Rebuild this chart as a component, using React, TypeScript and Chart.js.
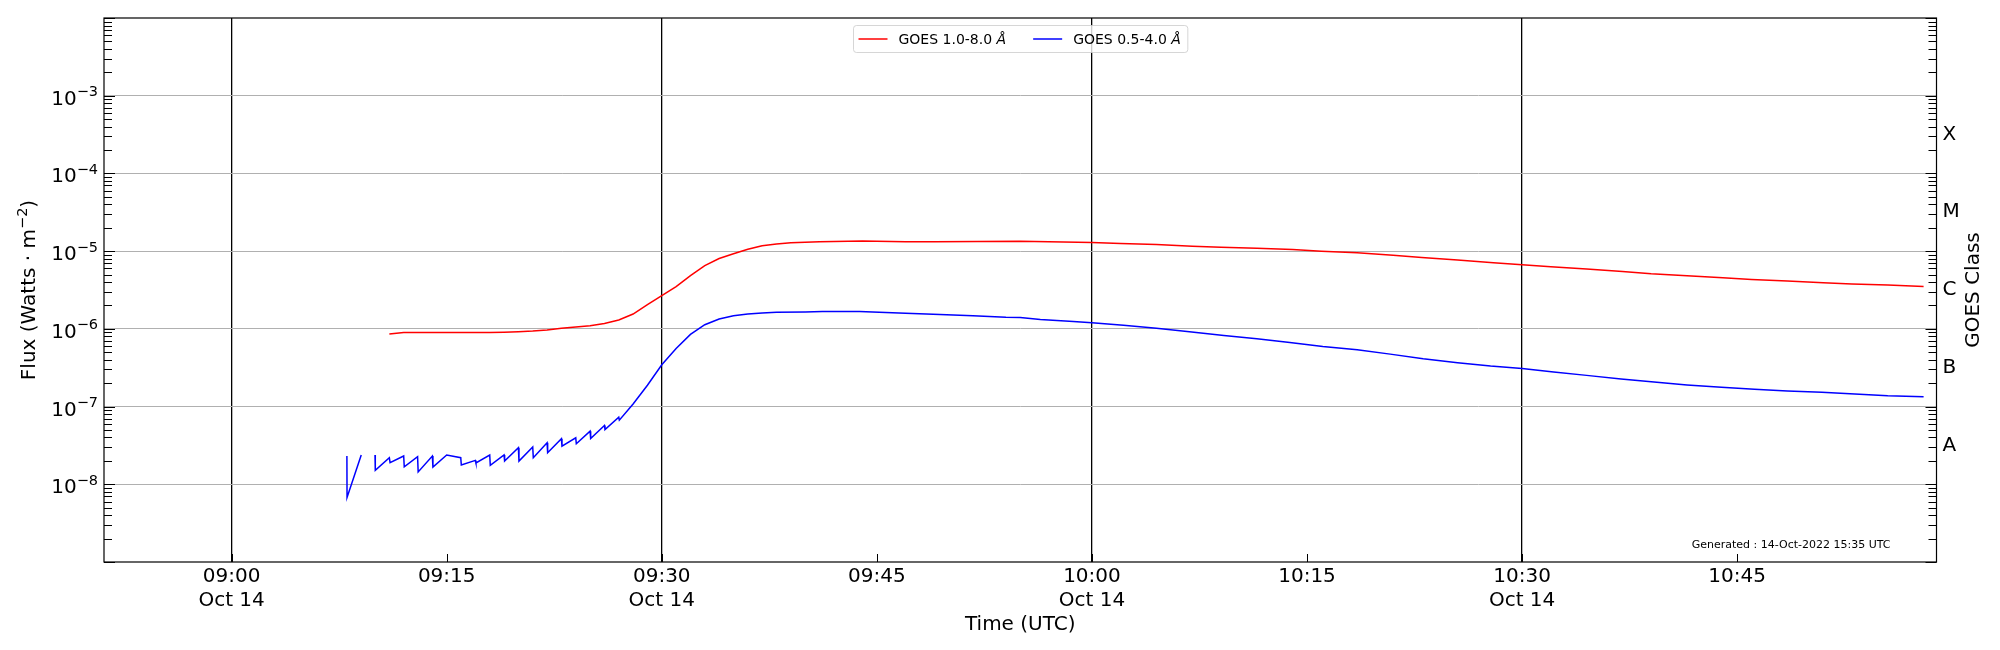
import { useEffect, useRef } from "react";
import { Chart, registerables, type Plugin } from "chart.js";

Chart.register(...registerables);

// time is in minutes after 09:00 UTC on 14-Oct-2022
const timeMin = -8.9;
const timeMax = 118.9;
const timeTicks = [0, 15, 30, 45, 60, 75, 90, 105];
const timeLabels = ["09:00", "09:15", "09:30", "09:45", "10:00", "10:15", "10:30", "10:45"];
const dayLabel = "Oct 14";

const fluxDecades = [-9, -8, -7, -6, -5, -4, -3, -2];
const labelledDecades = [-8, -7, -6, -5, -4, -3];
const mantissas = [1, 2, 3, 4, 5, 6, 7, 8, 9];

const classLetters = ["A", "B", "C", "M", "X"];
const classFloors = [1e-8, 1e-7, 1e-6, 1e-5, 1e-4];

// GOES 1.0-8.0 Å
const longTimes = [
  11, 12, 13, 14, 15, 16, 17, 18, 19, 20, 21, 22, 23, 24, 25, 26, 27, 28, 29, 30,
  31, 32, 33, 34, 35, 36, 37, 38, 39, 40, 41, 42, 43, 44, 45, 47, 49, 52, 55, 57,
  60, 62, 64.5, 67, 69, 71.5, 74, 76, 78.5, 81, 83, 85.5, 88, 90, 92, 94.5, 97, 99,
  101.5, 104, 106, 108.5, 111, 113, 115.5, 118,
];
const longFlux = [
  8.6e-7, 8.95e-7, 8.95e-7, 8.95e-7, 8.95e-7, 8.95e-7, 8.95e-7, 8.98e-7, 9.05e-7, 9.2e-7,
  9.4e-7, 9.7e-7, 1.02e-6, 1.06e-6, 1.1e-6, 1.17e-6, 1.3e-6, 1.55e-6, 2.05e-6, 2.67e-6,
  3.5e-6, 4.85e-6, 6.5e-6, 8.05e-6, 9.25e-6, 1.06e-5, 1.17e-5, 1.24e-5, 1.28e-5, 1.3e-5,
  1.32e-5, 1.33e-5, 1.34e-5, 1.35e-5, 1.34e-5, 1.32e-5, 1.32e-5, 1.33e-5, 1.34e-5, 1.32e-5,
  1.29e-5, 1.25e-5, 1.22e-5, 1.16e-5, 1.12e-5, 1.09e-5, 1.05e-5, 1.0e-5, 9.5e-6, 8.88e-6,
  8.3e-6, 7.67e-6, 7.09e-6, 6.7e-6, 6.3e-6, 5.88e-6, 5.48e-6, 5.12e-6,
  4.83e-6, 4.55e-6, 4.33e-6, 4.12e-6, 3.93e-6, 3.78e-6, 3.66e-6, 3.52e-6,
];

// GOES 0.5-4.0 Å (null = data gap)
const shortTimes = [
  8.04, 8.05, 9.04, 9.5, 10.0, 10.02, 11.0, 11.05, 12.0, 12.04, 12.97, 13.01, 14.0, 14.04,
  15.0, 15.98, 16.02, 17.0, 17.04, 18.0, 18.04, 19.0, 19.04, 20.0, 20.04, 21.0, 21.04,
  22.0, 22.04, 23.0, 23.04, 24.0, 24.04, 25.0, 25.04, 26.0, 26.04, 27.0, 27.04, 28, 29,
  30, 31, 32, 33, 34, 35, 36, 37, 38, 40, 41.2, 43.8, 44.7, 47, 49.4, 51.7, 54, 55, 56.4,
  58.7, 60, 62.2, 64.5, 66.8, 69.2, 71.5, 73.8, 76.1, 78.5, 80.8, 83.1, 85.5, 87.8, 90,
  92.2, 94.5, 96.9, 99.2, 101.5, 103.9, 106.2, 108.5, 110.9, 113.2, 115.5, 118,
];
const shortFlux = [
  2.31e-8, 6.75e-9, 2.38e-8, null, 2.38e-8, 1.51e-8, 2.2e-8, 1.9e-8, 2.31e-8, 1.68e-8,
  2.27e-8, 1.44e-8, 2.31e-8, 1.66e-8, 2.38e-8, 2.2e-8, 1.77e-8, 2.03e-8, 1.88e-8,
  2.38e-8, 1.75e-8, 2.38e-8, 1.99e-8, 2.95e-8, 1.99e-8, 3.01e-8, 2.2e-8, 3.42e-8,
  2.55e-8, 3.85e-8, 3.1e-8, 3.96e-8, 3.32e-8, 4.83e-8, 3.89e-8, 5.71e-8, 5.07e-8,
  7.29e-8, 6.68e-8, 1.08e-7, 1.88e-7, 3.45e-7, 5.6e-7, 8.5e-7, 1.13e-6, 1.34e-6, 1.47e-6,
  1.55e-6, 1.6e-6, 1.64e-6, 1.65e-6, 1.67e-6, 1.67e-6, 1.65e-6, 1.59e-6, 1.53e-6, 1.47e-6,
  1.41e-6, 1.4e-6, 1.32e-6, 1.24e-6, 1.2e-6, 1.11e-6, 1.02e-6, 9.17e-7, 8.22e-7, 7.45e-7,
  6.68e-7, 5.94e-7, 5.38e-7, 4.73e-7, 4.12e-7, 3.66e-7, 3.32e-7, 3.09e-7, 2.78e-7, 2.52e-7,
  2.26e-7, 2.07e-7, 1.9e-7, 1.77e-7, 1.67e-7, 1.59e-7, 1.53e-7, 1.45e-7, 1.38e-7, 1.34e-7,
];

const generatedText = "Generated : 14-Oct-2022 15:35 UTC";
const FONT = "'DejaVu Sans'";

const decadeOf = (v: number) => Math.round(Math.log10(v));
const isDecade = (v: number) => Math.abs(Math.log10(v) - decadeOf(v)) < 1e-6;

// draw base text followed by a raised, smaller exponent (mathtext-like)
function drawPower(
  ctx: CanvasRenderingContext2D,
  parts: { text: string; sup?: boolean }[],
  x: number,
  y: number,
  align: "left" | "right" | "center"
) {
  const widths = parts.map((p) => {
    ctx.font = `${p.sup ? 14.5 : 20}px ${FONT}`;
    return ctx.measureText(p.text).width;
  });
  const total = widths.reduce((s, w) => s + w, 0);
  let cx = align === "left" ? x : align === "right" ? x - total : x - total / 2;
  ctx.textAlign = "left";
  ctx.textBaseline = "alphabetic";
  parts.forEach((p, i) => {
    ctx.font = `${p.sup ? 14.5 : 20}px ${FONT}`;
    ctx.fillText(p.text, cx, p.sup ? y - 8.5 : y);
    cx += widths[i];
  });
}

const framePlugin: Plugin<"line"> = {
  id: "frame",
  afterDraw(chart) {
    const { ctx, chartArea: a, scales } = chart;
    const x = scales.x;
    const y = scales.y;
    ctx.save();
    ctx.strokeStyle = "#000";
    ctx.lineWidth = 1;
    ctx.beginPath();
    y.ticks.forEach((t) => {
      const py = Math.round(y.getPixelForValue(t.value)) + 0.5;
      const len = isDecade(t.value) ? 11 : 8;
      ctx.moveTo(a.left, py);
      ctx.lineTo(a.left + len, py);
      ctx.moveTo(a.right, py);
      ctx.lineTo(a.right - len, py);
    });
    x.ticks.forEach((t) => {
      const px = Math.round(x.getPixelForValue(t.value)) + 0.5;
      ctx.moveTo(px, a.bottom);
      ctx.lineTo(px, a.bottom - 8);
    });
    ctx.stroke();
    ctx.lineWidth = 1.2;
    ctx.strokeRect(a.left, a.top, a.right - a.left, a.bottom - a.top);

    // flux tick labels 10^-n
    ctx.fillStyle = "#000";
    labelledDecades.forEach((e) => {
      const py = y.getPixelForValue(10 ** e);
      drawPower(ctx, [{ text: "10" }, { text: "\u2212" + Math.abs(e), sup: true }], a.left - 6, py + 9, "right");
    });

    // left axis title
    ctx.save();
    ctx.translate(35, (a.top + a.bottom) / 2);
    ctx.rotate(-Math.PI / 2);
    drawPower(
      ctx,
      [{ text: "Flux (Watts \u00B7 m" }, { text: "\u22122", sup: true }, { text: ")" }],
      0,
      0,
      "center"
    );
    ctx.restore();

    // legend, upper centre
    const sets = chart.data.datasets;
    const parts = sets.map((d) => {
      const label = String(d.label);
      const cut = label.lastIndexOf(" ") + 1;
      const head = label.slice(0, cut);
      const tail = label.slice(cut);
      ctx.font = `14px ${FONT}`;
      const hw = ctx.measureText(head).width;
      ctx.font = `italic 14px ${FONT}`;
      const tw = ctx.measureText(tail).width;
      return { head, tail, hw, w: hw + tw, color: String(d.borderColor) };
    });
    const handle = 29;
    const gap = 11;
    const colGap = 27;
    const padL = 5;
    const padR = 7;
    const boxW =
      padL + padR + parts.reduce((s, p) => s + handle + gap + p.w, 0) + colGap * (parts.length - 1);
    const boxH = 27;
    const bx = Math.round((a.left + a.right) / 2 - boxW / 2) + 0.5;
    const by = Math.round(a.top + 7) + 0.5;
    ctx.beginPath();
    ctx.roundRect(bx, by, boxW, boxH, 3);
    ctx.fillStyle = "rgba(255,255,255,0.8)";
    ctx.fill();
    ctx.strokeStyle = "rgba(204,204,204,0.8)";
    ctx.lineWidth = 1;
    ctx.stroke();
    let cx = bx + padL;
    const cy = by + boxH / 2;
    ctx.textBaseline = "middle";
    ctx.textAlign = "left";
    parts.forEach((p) => {
      ctx.strokeStyle = p.color;
      ctx.lineWidth = 1.5;
      ctx.beginPath();
      ctx.moveTo(cx, cy);
      ctx.lineTo(cx + handle, cy);
      ctx.stroke();
      cx += handle + gap;
      ctx.fillStyle = "#000";
      ctx.font = `14px ${FONT}`;
      ctx.fillText(p.head, cx, cy + 1);
      ctx.font = `italic 14px ${FONT}`;
      ctx.fillText(p.tail, cx + p.hw, cy + 1);
      cx += p.w + colGap;
    });

    // generated stamp
    ctx.font = `11px ${FONT}`;
    ctx.textAlign = "right";
    ctx.textBaseline = "middle";
    ctx.fillStyle = "#000";
    ctx.fillText(generatedText, a.right - 46, a.bottom - 17);

    // right-hand axis title, reading upwards
    ctx.save();
    ctx.translate(a.right + 37, (a.top + a.bottom) / 2);
    ctx.rotate(-Math.PI / 2);
    ctx.font = `20px ${FONT}`;
    ctx.textAlign = "center";
    ctx.fillText("GOES Class", 0, 0);
    ctx.restore();
    ctx.restore();
  },
};

function GoesFluxChart() {
  const canvasRef = useRef<HTMLCanvasElement>(null);
  const chartRef = useRef<Chart | null>(null);

  useEffect(() => {
    if (!canvasRef.current) return;
    Chart.defaults.font.family = FONT;
    Chart.defaults.color = "#000";

    const fluxTicks = fluxDecades.flatMap((e, i) =>
      i === fluxDecades.length - 1 ? [10 ** e] : mantissas.map((m) => m * 10 ** e)
    );

    chartRef.current = new Chart(canvasRef.current, {
      type: "line",
      data: {
        datasets: [
          {
            label: "GOES 1.0-8.0 Å",
            data: longTimes.map((t, i) => ({ x: t, y: longFlux[i] })),
            borderColor: "#ff0000",
            borderWidth: 1.5,
            pointRadius: 0,
            tension: 0,
            yAxisID: "y",
          },
          {
            label: "GOES 0.5-4.0 Å",
            data: shortTimes.map((t, i) => ({ x: t, y: shortFlux[i] })),
            borderColor: "#0000ff",
            borderWidth: 1.5,
            pointRadius: 0,
            tension: 0,
            spanGaps: false,
            yAxisID: "y",
          },
        ],
      },
      options: {
        animation: false,
        responsive: true,
        maintainAspectRatio: false,
        layout: { padding: { top: 15, left: 0, right: 0, bottom: 0 } },
        plugins: { legend: { display: false }, tooltip: { enabled: false } },
        scales: {
          x: {
            type: "linear",
            min: timeMin,
            max: timeMax,
            afterBuildTicks: (s) => {
              s.ticks = timeTicks.map((value) => ({ value }));
            },
            afterFit: (s) => {
              s.height = 88;
            },
            ticks: {
              autoSkip: false,
              maxRotation: 0,
              padding: 3,
              font: { size: 20 },
              callback: (v) => {
                const i = timeTicks.indexOf(Number(v));
                return Number(v) % 30 === 0 ? [timeLabels[i], dayLabel] : timeLabels[i];
              },
            },
            grid: {
              drawTicks: false,
              lineWidth: 1.3,
              color: (c) => (c.tick && c.tick.value % 30 === 0 ? "#000" : "rgba(0,0,0,0)"),
            },
            border: { display: false },
            title: {
              display: true,
              text: "Time (UTC)",
              font: { size: 20 },
              padding: { top: 0, bottom: 13 },
            },
          },
          y: {
            type: "logarithmic",
            position: "left",
            min: 1e-9,
            max: 1e-2,
            afterBuildTicks: (s) => {
              s.ticks = fluxTicks.map((value) => ({ value }));
            },
            afterFit: (s) => {
              s.width = 104;
            },
            ticks: { display: false, autoSkip: false },
            grid: {
              drawTicks: false,
              lineWidth: 1,
              color: (c) =>
                c.tick && isDecade(c.tick.value) && labelledDecades.includes(decadeOf(c.tick.value))
                  ? "#b0b0b0"
                  : "rgba(0,0,0,0)",
            },
            border: { display: false },
          },
          goes: {
            type: "logarithmic",
            position: "right",
            min: 1e-9,
            max: 1e-2,
            afterBuildTicks: (s) => {
              s.ticks = classFloors.map((f) => ({ value: f * Math.sqrt(10) }));
            },
            afterFit: (s) => {
              s.width = 63.5;
            },
            ticks: {
              autoSkip: false,
              padding: 6,
              font: { size: 20 },
              callback: (_v, i) => classLetters[i],
            },
            grid: { display: false, drawTicks: false },
            border: { display: false },
          },
        },
      },
      plugins: [framePlugin],
    });

    return () => {
      chartRef.current?.destroy();
    };
  }, []);

  return (
    <div style={{ position: "fixed", left: 0, top: 0, width: 2000, height: 650, background: "#fff" }}>
      <canvas ref={canvasRef} />
    </div>
  );
}

export default function App() {
  return <GoesFluxChart />;
}
